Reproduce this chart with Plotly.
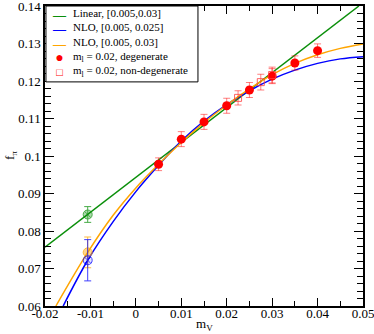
"""f_pi vs m_V: linear and NLO chiral fits with degenerate / non-degenerate data."""

import plotly.graph_objects as go

# degenerate points, m_l = 0.02
deg_x = [0.005, 0.010, 0.015, 0.020, 0.025, 0.030, 0.035, 0.040]
deg_y = [0.0978, 0.1045, 0.1091, 0.1134, 0.1176, 0.1213, 0.1248, 0.1281]
deg_err = [0.0017, 0.0020, 0.0020, 0.0020, 0.0020, 0.0020, 0.0019, 0.0018]

# non-degenerate points, m_l = 0.02
nondeg_x = [0.0225, 0.0275, 0.030]
nondeg_y = [0.1155, 0.1197, 0.1216]
nondeg_err = [0.0019, 0.0021, 0.0021]

# fit curves
lin_x = [-0.02, 0.0491]
lin_y = [0.0757, 0.1400]

nlo25_x = [-0.0160, -0.0106, -0.005, 0.0, 0.005, 0.010, 0.015, 0.020, 0.025, 0.030, 0.035, 0.040, 0.045, 0.050]
nlo25_y = [0.0600, 0.0722, 0.0825, 0.0905, 0.0975, 0.1040, 0.1093, 0.1137, 0.1174, 0.1205, 0.1229, 0.1247, 0.1259, 0.1265]

nlo30_x = [-0.0176, -0.0106, -0.005, 0.0, 0.005, 0.010, 0.015, 0.020, 0.025, 0.030, 0.035, 0.040, 0.045, 0.050]
nlo30_y = [0.0600, 0.0743, 0.0842, 0.0915, 0.0978, 0.1036, 0.1089, 0.1136, 0.1179, 0.1217, 0.1247, 0.1270, 0.1287, 0.1299]

# chiral-limit extrapolations
extrap_x = -0.0106
extrap_lin = (0.0844, 0.0021)
extrap_nlo25 = (0.0722, 0.0055)
extrap_nlo30 = (0.0743, 0.0041)

x_ticks = [-0.02, -0.01, 0.0, 0.01, 0.02, 0.03, 0.04, 0.05]
x_labels = ["-0.02", "-0.01", "0", "0.01", "0.02", "0.03", "0.04", "0.05"]
y_ticks = [0.06, 0.07, 0.08, 0.09, 0.10, 0.11, 0.12, 0.13, 0.14]
y_labels = ["0.06", "0.07", "0.08", "0.09", "0.1", "0.11", "0.12", "0.13", "0.14"]

legend_labels = ["Linear, [0.005,0.03]", "NLO, [0.005, 0.025]", "NLO, [0.005, 0.03]",
                 "m<sub>l</sub> = 0.02, degenerate", "m<sub>l</sub> = 0.02, non-degenerate"]

GREEN = "#0a8f0a"
BLUE = "#0000ff"
ORANGE = "#ffa500"
RED = "#ff0000"
RED_LIGHT = "rgba(255,0,0,0.5)"

fig = go.Figure()
fig.add_trace(go.Scatter(x=lin_x, y=lin_y, mode="lines", line=dict(color=GREEN, width=1.5)))
fig.add_trace(go.Scatter(x=nlo25_x, y=nlo25_y, mode="lines",
                         line=dict(color=BLUE, width=1.5, shape="spline")))
fig.add_trace(go.Scatter(x=nlo30_x, y=nlo30_y, mode="lines",
                         line=dict(color=ORANGE, width=1.5, shape="spline")))

fig.add_trace(go.Scatter(
    x=deg_x, y=deg_y, mode="markers",
    marker=dict(symbol="circle", size=9, color=RED),
    error_y=dict(type="data", array=deg_err, color=RED_LIGHT, thickness=1, width=3.5),
))
fig.add_trace(go.Scatter(
    x=nondeg_x, y=nondeg_y, mode="markers",
    marker=dict(symbol="square-open", size=7, color="rgba(255,60,60,0.8)", line=dict(width=1)),
    error_y=dict(type="data", array=nondeg_err, color=RED_LIGHT, thickness=1, width=3.5),
))

for (val, err), col, fill, sym in [
    (extrap_lin, GREEN, "rgba(10,143,10,0.45)", "circle-x"),
    (extrap_nlo30, ORANGE, "rgba(255,165,0,0.6)", "circle"),
    (extrap_nlo25, BLUE, "rgba(0,0,255,0.15)", "circle-x"),
]:
    fig.add_trace(go.Scatter(
        x=[extrap_x], y=[val], mode="markers",
        marker=dict(symbol=sym, size=9, color=fill, line=dict(color=col, width=1)),
        error_y=dict(type="data", array=[err], color=col, thickness=1, width=3.5),
        opacity=0.75,
    ))

axis_common = dict(
    showgrid=False, zeroline=False, showline=True, linecolor="black", linewidth=1.5,
    mirror="allticks", ticks="inside", tickcolor="black", tickmode="array",
    tickfont=dict(size=13, color="black"), ticklabeloverflow="allow", automargin=False,
)
fig.update_xaxes(
    range=[-0.02, 0.05], tickvals=x_ticks, ticktext=x_labels, ticklen=8,
    ticklabelstandoff=-5,
    minor=dict(tickmode="linear", tick0=-0.02, dtick=0.005, ticks="inside", ticklen=5, tickcolor="black"),
    **axis_common,
)
fig.update_yaxes(
    range=[0.06, 0.14], tickvals=y_ticks, ticktext=y_labels, ticklen=9,
    minor=dict(tickmode="linear", tick0=0.06, dtick=0.002, ticks="inside", ticklen=6, tickcolor="black"),
    **axis_common,
)

# axis titles
fig.add_annotation(text="m<sub>V</sub>", xref="paper", yref="paper", x=0.5, y=-0.028,
                   xanchor="center", yanchor="top", showarrow=False, font=dict(size=13))
fig.add_annotation(text="f<sub>π</sub>", xref="paper", yref="paper", x=-0.11, y=0.5,
                   xanchor="center", yanchor="middle", textangle=-90, showarrow=False,
                   font=dict(size=13))

# compact boxed legend (plotly's own legend rows are too tall for this layout)
symbols = [
    f"<span style='color:{GREEN};font-size:13px'><b>—</b></span>",
    f"<span style='color:{BLUE};font-size:13px'><b>—</b></span>",
    f"<span style='color:{ORANGE};font-size:13px'><b>—</b></span>",
    f"<span style='color:{RED};font-size:14px'>●</span>",
    f"<span style='color:{RED}'>□</span>",
]
fig.add_shape(type="rect", xref="paper", yref="paper", x0=0.003, x1=0.481, y0=0.747, y1=1.0,
              line=dict(color="black", width=1), fillcolor="white", layer="above")
fig.add_annotation(text="<br>".join(symbols), xref="paper", yref="paper", x=0.047, y=0.878,
                   xanchor="center", yanchor="middle", align="center", showarrow=False,
                   font=dict(size=11))
fig.add_annotation(text="<br>".join(legend_labels), xref="paper", yref="paper", x=0.083, y=0.878,
                   xanchor="left", yanchor="middle", align="left", showarrow=False,
                   font=dict(size=11))

fig.update_layout(
    width=374, height=334,
    margin=dict(l=45, r=11, t=6, b=28),
    plot_bgcolor="white", paper_bgcolor="white",
    font=dict(family="Liberation Serif", color="black", size=13),
    showlegend=False,
)
fig.write_html("out.html", config={"displayModeBar": False},
               post_script="document.body.style.margin='0';document.body.style.overflow='hidden';")
